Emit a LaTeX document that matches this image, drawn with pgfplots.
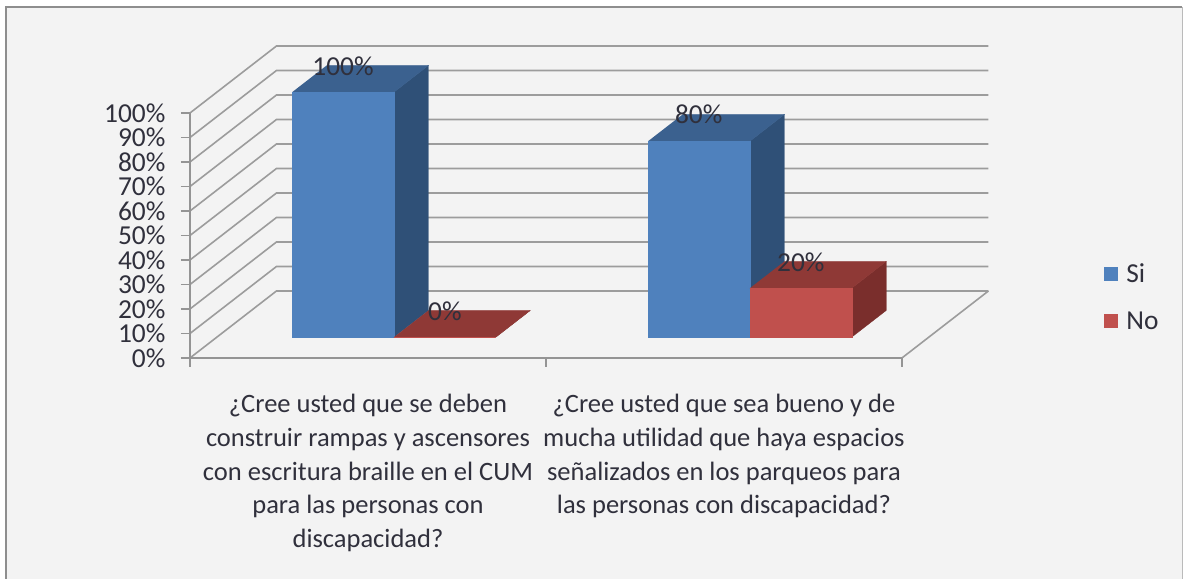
\documentclass[border=0pt]{standalone}
\usepackage{fontspec}
\setmainfont{Carlito}
\usepackage{pgfplots}
\pgfplotsset{compat=1.18}
\definecolor{txt}{HTML}{30303C}
\definecolor{gridc}{HTML}{9C9C9C}
\definecolor{axc}{HTML}{949494}
\definecolor{bg}{HTML}{F3F3F3}
\definecolor{frm}{HTML}{8E8E8E}
\definecolor{bluF}{HTML}{4F81BD}
\definecolor{bluS}{HTML}{2F5077}
\definecolor{bluT}{HTML}{3B618F}
\definecolor{redF}{HTML}{C0504D}
\definecolor{redS}{HTML}{7A2E2C}
\definecolor{redT}{HTML}{8F3936}
\newcommand{\lab}{\fontsize{27.4}{27.4}\selectfont}
% depth of the back wall in data units, and depth range of the bars (0..1)
\def\Dx{0.243}\def\Dy{27.35}\def\zA{0.31}\def\zB{0.71}
\newcommand{\barseg}[6]{%
  \pgfmathsetmacro{\xa}{#1+\zA*\Dx}\pgfmathsetmacro{\xb}{#2+\zA*\Dx}%
  \pgfmathsetmacro{\xc}{#1+\zB*\Dx}\pgfmathsetmacro{\xd}{#2+\zB*\Dx}%
  \pgfmathsetmacro{\ya}{\zA*\Dy}\pgfmathsetmacro{\yb}{#3+\zA*\Dy}%
  \pgfmathsetmacro{\yc}{\zB*\Dy}\pgfmathsetmacro{\yd}{#3+\zB*\Dy}%
  \addplot[fill=#5,draw=#5,line width=0.3pt,forget plot] coordinates {(\xb,\ya) (\xd,\yc) (\xd,\yd) (\xb,\yb)};
  \addplot[fill=#6,draw=#6,line width=0.3pt,forget plot] coordinates {(\xa,\yb) (\xb,\yb) (\xd,\yd) (\xc,\yd)};
  \addplot[fill=#4,draw=#4,line width=0.3pt,forget plot] coordinates {(\xa,\ya) (\xb,\ya) (\xb,\yb) (\xa,\yb)};
}
\newcommand{\gridln}[1]{%
  \pgfmathsetmacro{\ya}{#1+\Dy}%
  \addplot[gridc,line width=1.6pt,forget plot] coordinates {(0,#1) (\Dx,\ya) (2+\Dx,\ya)};
}
\begin{document}
\begin{tikzpicture}
\begin{axis}[
  scale only axis, width=712pt, height=245pt,
  xmin=0, xmax=2, ymin=0, ymax=100,
  clip=false, axis on top,
  axis x line*=bottom, axis y line*=left,
  axis line style={axc,line width=1.8pt,-},
  tick style={axc,line width=1.6pt},
  major tick length=9pt,
  xtick={0,1,2}, xticklabels={},
  tick align=outside,
  extra x ticks={0.5,1.5},
  extra x tick style={major tick length=0pt, tick style={draw=none},
    xticklabel style={yshift=-33pt}},
  extra x tick labels={{¿Cree usted que se deben\\construir rampas y ascensores\\con escritura braille en el CUM\\para las personas con\\discapacidad?},
    {¿Cree usted que sea bueno y de\\mucha utilidad que haya espacios\\señalizados en los parqueos para\\las personas con discapacidad?}},
  xticklabel style={align=center,font=\fontsize{26.5}{33.6}\selectfont,text=txt,anchor=north},
  ytick={0,10,...,100},
  yticklabels={0\%,10\%,20\%,30\%,40\%,50\%,60\%,70\%,80\%,90\%,100\%},
  yticklabel style={font=\lab,text=txt,anchor=east,xshift=-12pt},
  legend style={draw=none,fill=none,font=\lab,text=txt,at={(1.2840,0.386)},anchor=north west,
    row sep=28pt,column sep=8pt,inner sep=0pt,legend cell align=left,
    nodes={inner sep=0pt}},
  legend image code/.code={\fill[#1,draw=none] (0pt,-7pt) rectangle (14pt,7pt);},
]
% page and chart area
\addplot[fill=white,draw=none,forget plot] coordinates {(-0.5337,-90.2) (2.7893,-90.2) (2.7893,146.12) (-0.5337,146.12)};
\addplot[fill=bg,draw=none,forget plot] coordinates {(-0.517,-90.2) (2.787,-90.2) (2.787,143.2) (-0.517,143.2)};
\addplot[frm,line width=1.8pt,forget plot] coordinates {(-0.517,-90.2) (-0.517,143.2) (2.787,143.2)};
\addplot[gridc!70,line width=1pt,forget plot] coordinates {(2.787,143.2) (2.787,-90.2)};
% back wall and floor
\gridln{0}\gridln{10}\gridln{20}\gridln{30}\gridln{40}\gridln{50}
\gridln{60}\gridln{70}\gridln{80}\gridln{90}\gridln{100}
\addplot[gridc,line width=1.6pt,forget plot] coordinates {(2,0) (2.243,27.35)};
% bars: from, to, value
\barseg{0.2115}{0.4975}{100}{bluF}{bluS}{bluT}
\barseg{0.4975}{0.7835}{0}{redF}{redS}{redT}
\barseg{1.2115}{1.4975}{80}{bluF}{bluS}{bluT}
\barseg{1.4975}{1.7835}{20}{redF}{redS}{redT}
% value labels
\addplot[only marks,mark=none,forget plot,point meta=explicit symbolic,
  nodes near coords,nodes near coords style={anchor=center,font=\lab,text=txt,inner sep=0pt}]
  coordinates {(0.430,119.2)[100\%] (0.716,19.2)[0\%] (1.429,99.6)[80\%] (1.716,39.2)[20\%]};
\addlegendimage{fill=bluF}\addlegendentry{Si}
\addlegendimage{fill=redF}\addlegendentry{No}
\end{axis}
\end{tikzpicture}
\end{document}
